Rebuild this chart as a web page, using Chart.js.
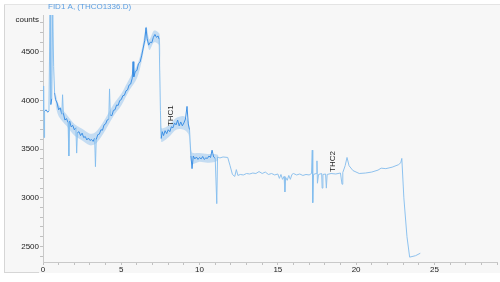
<!DOCTYPE html>
<html>
<head>
<meta charset="utf-8">
<script src="https://cdn.jsdelivr.net/npm/chart.js@4/dist/chart.umd.min.js"></script>
<style>
html,body{margin:0;padding:0;background:#ffffff;}
#wrap{width:500px;height:282px;position:relative;}
</style>
</head>
<body>
<div id="wrap"><canvas id="c" width="500" height="282"></canvas></div>
<script>
// Retention time (min)
const retentionTime = [
0.00,0.04,0.07,0.10,0.20,0.30,0.38,0.45,0.50,0.56,0.62,0.68,0.74,0.80,0.90,
1.00,1.10,1.20,1.25,1.30,1.40,1.50,1.60,1.65,1.70,1.80,1.90,2.00,2.10,2.15,2.20,2.30,2.40,2.50,2.60,2.70,2.80,2.90,
3.00,3.10,3.20,3.30,3.35,3.40,3.50,3.60,3.70,3.80,3.90,4.00,4.10,4.20,4.25,4.30,4.40,4.50,4.60,4.70,4.80,4.90,
5.00,5.10,5.20,5.30,5.40,5.50,5.60,5.70,5.75,5.80,5.90,6.00,6.10,6.20,6.30,6.40,6.50,6.58,6.65,6.75,6.85,6.95,
7.05,7.15,7.25,7.35,7.42,7.50,7.55,7.62,7.70,7.80,7.90,8.00,8.10,8.20,8.30,8.40,8.50,8.60,8.70,8.80,8.90,
9.00,9.10,9.20,9.28,9.36,9.45,9.52,9.60,9.70,9.80,9.90,10.00,10.10,10.20,10.30,10.40,10.50,10.60,10.70,10.80,10.90,
11.00,11.10,11.15,11.30,11.50,11.80,11.95,12.10,12.25,12.35,12.45,12.60,12.80,13.00,13.20,13.40,13.60,13.80,
14.00,14.20,14.40,14.60,14.80,15.00,15.10,15.20,15.30,15.40,15.45,15.50,15.60,15.70,15.80,15.90,
16.00,16.20,16.40,16.60,16.80,17.00,17.15,17.20,17.23,17.28,17.45,17.50,17.53,17.60,17.80,17.83,17.88,
18.05,18.10,18.15,18.40,18.70,19.00,19.10,19.15,19.30,19.42,19.55,19.80,20.20,20.60,21.00,21.40,21.60,21.90,
22.30,22.70,22.85,22.92,23.05,23.25,23.42,23.80,24.10
];
// FID signal (counts)
const fidCounts = [
3900,4150,3620,3890,3905,3880,3895,4950,3960,4020,4950,4350,4080,4010,3975,
3905,3925,3860,4060,3870,3800,3815,3775,3430,3790,3730,3745,3700,3720,3460,3670,3680,3640,3665,3620,3630,3595,3615,
3590,3600,3580,3615,3320,3600,3650,3655,3700,3695,3750,3760,3800,3810,4120,3850,3845,3900,3905,3955,3950,4000,
4010,4050,4055,4100,4110,4160,4170,4230,4400,4245,4300,4310,4380,4395,4460,4540,4620,4750,4640,4570,4600,4595,
4650,4680,4650,4665,4630,3900,3610,3680,3640,3690,3660,3700,3680,3730,3720,3770,3750,3800,3740,3780,3740,
3770,3810,3940,3760,3700,3430,3300,3430,3400,3420,3395,3415,3400,3425,3395,3410,3405,3430,3415,3490,3420,
3405,2940,3420,3410,3420,3415,3330,3240,3220,3290,3230,3240,3235,3250,3245,3255,3250,3270,
3250,3265,3240,3250,3235,3245,3200,3240,3190,3220,3060,3210,3180,3230,3190,3240,
3250,3235,3245,3230,3240,3235,3250,3490,2950,3240,3250,3380,3150,3240,3250,3100,3240,
3245,3100,3240,3250,3245,3255,3140,3260,3330,3415,3330,3280,3250,3255,3265,3285,3305,3300,
3315,3340,3360,3405,3000,2600,2390,2405,2430
];
// Noise band around the signal (counts)
const bandTime = [0.8,1.0,1.5,2.0,2.5,3.0,3.3,3.6,4.0,4.5,5.0,5.5,6.0,6.3,6.6,6.8,7.1,7.45,7.55,8.0,8.5,9.0,9.3,9.5,10.0,10.5,11.0,11.2];
const bandHigh = [4080,3960,3860,3760,3710,3660,3670,3720,3820,3960,4070,4220,4360,4520,4760,4630,4720,4680,3720,3740,3820,3840,3780,3470,3460,3450,3450,3440];
const bandLow  = [3950,3840,3740,3640,3590,3540,3550,3600,3700,3840,3950,4100,4230,4400,4620,4520,4600,4560,3580,3620,3700,3700,3650,3350,3370,3360,3370,3390];
// Axis ticks / labels
const xMajorTicks = [0, 5, 10, 15, 20, 25];
const yMajorTicks = [2500, 3000, 3500, 4000, 4500];
// Peak annotations
const peakNames = ['THC1', 'THC2'];
const peakTimes = [8.15, 18.5];
const peakLabelCounts = [3845, 3373];

const points = retentionTime.map((t, i) => ({x: t, y: fidCounts[i]}));
const hiPts = bandTime.map((t, i) => ({x: t, y: bandHigh[i]}));
const loPts = bandTime.map((t, i) => ({x: t, y: bandLow[i]}));

const DARK = 'rgba(55,140,228,0.95)';
const LIGHT = 'rgba(130,188,238,0.9)';
function segColor(c) {
  const jump = Math.abs(c.p1.parsed.y - c.p0.parsed.y);
  if (jump > 180) return LIGHT;
  return c.p0.parsed.x >= 11.1 ? '#8fc2ee' : DARK;
}

const framePlugin = {
  id: 'frame',
  beforeDraw(chart) {
    const ctx = chart.ctx;
    ctx.save();
    ctx.fillStyle = '#ffffff';
    ctx.fillRect(0, 0, 500, 282);
    ctx.fillStyle = '#f7f7f7';
    ctx.fillRect(4, 4, 496, 269);
    ctx.strokeStyle = '#d6d6d6';
    ctx.lineWidth = 1;
    ctx.beginPath();
    ctx.moveTo(4.5, 4); ctx.lineTo(4.5, 273);
    ctx.moveTo(4, 272.5); ctx.lineTo(39, 272.5);
    ctx.stroke();
    ctx.strokeStyle = '#e4e4e4';
    ctx.beginPath();
    ctx.moveTo(4, 4.5); ctx.lineTo(500, 4.5);
    ctx.stroke();
    ctx.restore();
  },
  afterDraw(chart) {
    const ctx = chart.ctx;
    const xs = chart.scales.x, ys = chart.scales.y;
    ctx.save();
    ctx.font = '8px "Liberation Sans", Arial, sans-serif';
    ctx.fillStyle = '#5b9fe3';
    ctx.textAlign = 'left';
    ctx.textBaseline = 'middle';
    ctx.fillText('FID1 A, (THCO1336.D)', 48, 7);
    ctx.fillStyle = '#222';
    ctx.textAlign = 'right';
    ctx.fillText('counts', 39, 20);
    ctx.textAlign = 'center';
    peakNames.forEach((n, i) => {
      const px = xs.getPixelForValue(peakTimes[i]);
      const py = ys.getPixelForValue(peakLabelCounts[i]);
      ctx.save();
      ctx.translate(px, py);
      ctx.rotate(-Math.PI / 2);
      ctx.fillText(n, 0, 0);
      ctx.restore();
    });
    ctx.restore();
  }
};

new Chart(document.getElementById('c'), {
  type: 'line',
  data: {
    datasets: [{
      data: points,
      borderColor: DARK,
      borderWidth: 1,
      pointRadius: 0,
      tension: 0,
      order: 0,
      segment: {borderColor: segColor}
    }, {
      data: hiPts,
      borderWidth: 0,
      borderColor: 'rgba(0,0,0,0)',
      pointRadius: 0,
      tension: 0.3,
      fill: '+1',
      backgroundColor: 'rgba(120,180,236,0.4)',
      order: 1
    }, {
      data: loPts,
      borderWidth: 0,
      borderColor: 'rgba(0,0,0,0)',
      pointRadius: 0,
      tension: 0.3,
      fill: false,
      order: 2
    }]
  },
  options: {
    responsive: false,
    animation: false,
    layout: {padding: {left: 0, top: 15, right: 3, bottom: 0}},
    plugins: {legend: {display: false}, tooltip: {enabled: false}, filler: {propagate: false}},
    scales: {
      x: {
        type: 'linear',
        min: 0, max: 29,
        afterFit: s => { s.height = 20; },
        border: {color: '#c9c9c9', width: 1},
        grid: {drawOnChartArea: false, tickLength: 3, color: '#c0c0c0'},
        ticks: {
          stepSize: 1, autoSkip: false, maxRotation: 0, padding: 0,
          color: '#222', font: {size: 8, family: '"Liberation Sans", Arial, sans-serif'},
          callback: v => xMajorTicks.includes(v) ? String(v) : ''
        }
      },
      y: {
        min: 2340, max: 4880,
        afterFit: s => { s.width = 43; },
        border: {color: '#c9c9c9', width: 1},
        grid: {drawOnChartArea: false, tickLength: 3, color: '#c0c0c0'},
        ticks: {
          stepSize: 100, autoSkip: false, includeBounds: false, padding: 1,
          color: '#222', font: {size: 8, family: '"Liberation Sans", Arial, sans-serif'},
          callback: v => yMajorTicks.includes(v) ? String(v) : ''
        }
      }
    }
  },
  plugins: [framePlugin]
});
</script>
</body>
</html>
